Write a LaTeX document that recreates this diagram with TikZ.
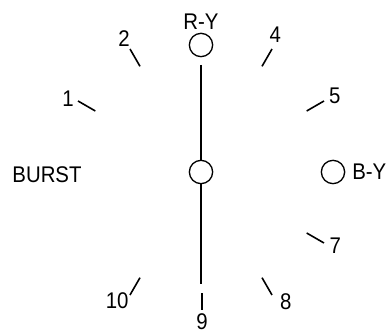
\documentclass[tikz,border=0pt]{standalone}
\usepackage{fontspec}
\setmainfont{Liberation Sans}[FakeStretch=0.9]
\usetikzlibrary{positioning}

\begin{document}
\begin{tikzpicture}[x=0.75pt, y=0.75pt,
    ring/.style={circle, draw, line width=1pt, minimum size=17.5pt, inner sep=0pt},
    tick/.style={line width=1.2pt},
    axis/.style={line width=2pt},
    lbl/.style={font=\fontsize{17}{20}\selectfont, inner sep=0pt}]
  \useasboundingbox (-201,-162) rectangle (190,172);
  % Phase circles
  \node[ring] (mid) at (0,0) {};
  \node[ring] (ry) at (0,127) {};
  \node[ring] (by) at (132,0) {};
  \node[lbl, above=2.5pt of ry] (rylbl) {R-Y};
  \node[lbl, right=5pt of by] (bylbl) {B-Y};
  \node[lbl] (burst) at (-154,-3) {BURST};
  % Vertical line
  \coordinate (top) at (0,107);
  \coordinate (bot) at (0,-112);
  \draw[axis] (top) -- (mid.north);
  \draw[axis] (mid.south) -- (bot);
  % Ticks at 30 degree steps
  \foreach \a in {30,60,120,150,-30,-60,-120}
    \draw[tick] (\a:122) -- (\a:142);
  \draw[tick] (1,-121) -- (1,-138);
  % Tick labels
  \node[lbl] (n1) at (151:152) {1};
  \node[lbl] (n2) at (120:154) {2};
  \node[lbl] (n4) at (61.6:156) {4};
  \node[lbl] (n5) at (29.6:154) {5};
  \node[lbl] (n7) at (-28.6:153) {7};
  \node[lbl] (n8) at (-56.8:155) {8};
  \node[lbl] (n9) at (1,-150) {9};
  \node[lbl] (n10) at (-123:154) {10};
\end{tikzpicture}
\end{document}
